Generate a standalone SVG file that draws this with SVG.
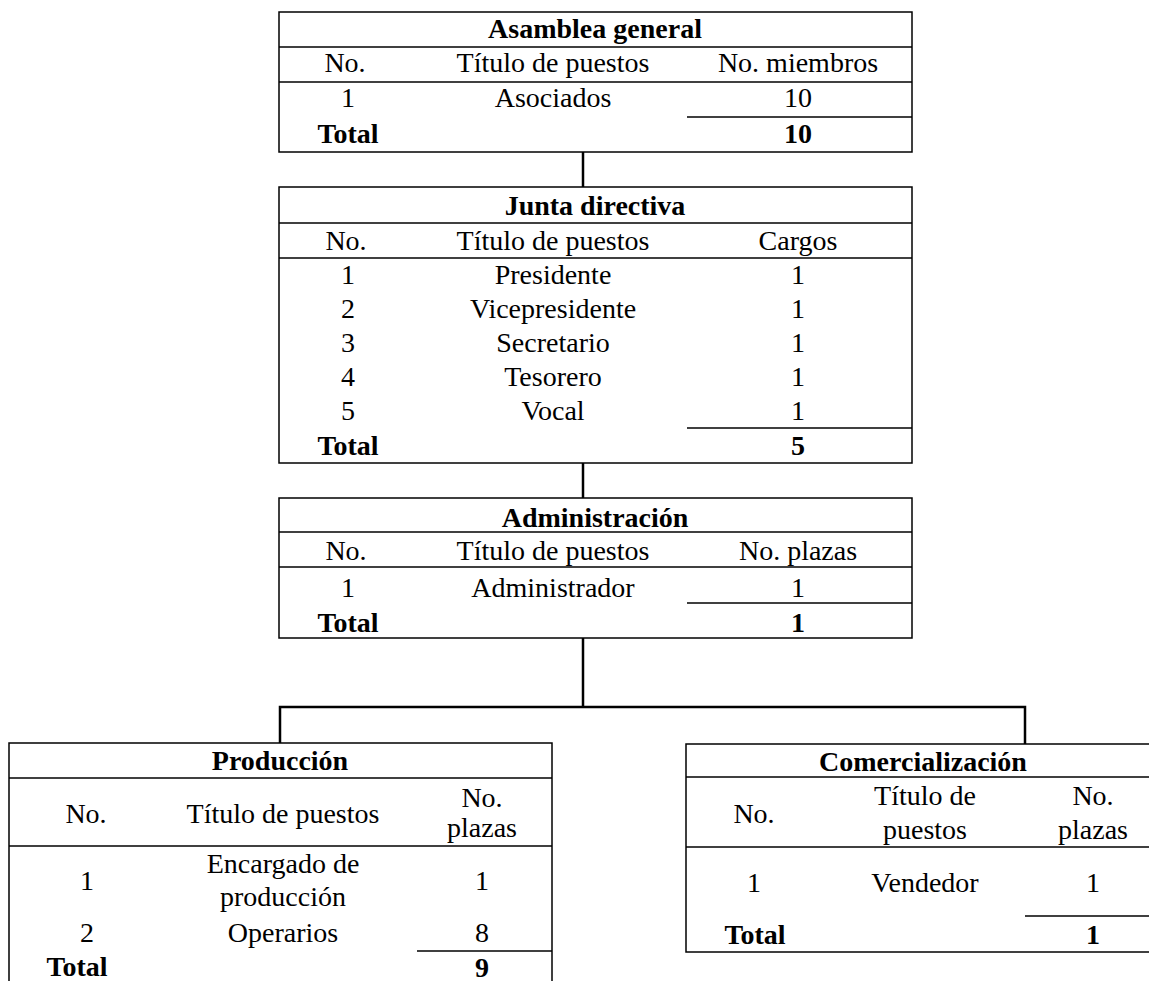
<svg xmlns="http://www.w3.org/2000/svg" width="1149" height="981" viewBox="0 0 1149 981">
<style>
.box{fill:#fff;stroke:#000;stroke-width:1.5}
.ln{stroke:#000;stroke-width:1.5;fill:none}
.con{stroke:#000;stroke-width:2.5;fill:none}
text{font-family:"Liberation Serif","Times New Roman",serif;font-size:28px;fill:#000;text-anchor:middle}
.b{font-weight:bold}
</style>
<rect x="0" y="0" width="1149" height="981" fill="#fff"/>
<g id="connectors">
<line class="con" x1="583" y1="152" x2="583" y2="187"/>
<line class="con" x1="583" y1="463" x2="583" y2="498"/>
<line class="con" x1="583" y1="638" x2="583" y2="707"/>
<polyline class="con" points="280,743 280,707 1025,707 1025,744"/>
</g>
<g id="asamblea">
<rect class="box" x="279" y="12" width="633" height="140"/>
<line class="ln" x1="279" y1="47" x2="912" y2="47"/>
<line class="ln" x1="279" y1="82" x2="912" y2="82"/>
<line class="ln" x1="687" y1="117" x2="912" y2="117"/>
<text class="b" x="595" y="38">Asamblea general</text>
<text x="345" y="72">No.</text>
<text x="553" y="72">Título de puestos</text>
<text x="798" y="72">No. miembros</text>
<text x="348" y="107">1</text>
<text x="553" y="107">Asociados</text>
<text x="798" y="107">10</text>
<text class="b" x="348" y="143">Total</text>
<text class="b" x="798" y="143">10</text>
</g>
<g id="junta">
<rect class="box" x="279" y="187" width="633" height="276"/>
<line class="ln" x1="279" y1="223" x2="912" y2="223"/>
<line class="ln" x1="279" y1="258" x2="912" y2="258"/>
<line class="ln" x1="687" y1="428" x2="912" y2="428"/>
<text class="b" x="595" y="215">Junta directiva</text>
<text x="346" y="250">No.</text>
<text x="553" y="250">Título de puestos</text>
<text x="798" y="250">Cargos</text>
<text x="348" y="284">1</text>
<text x="553" y="284">Presidente</text>
<text x="798" y="284">1</text>
<text x="348" y="318">2</text>
<text x="553" y="318">Vicepresidente</text>
<text x="798" y="318">1</text>
<text x="348" y="352">3</text>
<text x="553" y="352">Secretario</text>
<text x="798" y="352">1</text>
<text x="348" y="386">4</text>
<text x="553" y="386">Tesorero</text>
<text x="798" y="386">1</text>
<text x="348" y="420">5</text>
<text x="553" y="420">Vocal</text>
<text x="798" y="420">1</text>
<text class="b" x="348" y="455">Total</text>
<text class="b" x="798" y="455">5</text>
</g>
<g id="administracion">
<rect class="box" x="279" y="498" width="633" height="140"/>
<line class="ln" x1="279" y1="532" x2="912" y2="532"/>
<line class="ln" x1="279" y1="567" x2="912" y2="567"/>
<line class="ln" x1="687" y1="603" x2="912" y2="603"/>
<text class="b" x="595" y="527">Administración</text>
<text x="346" y="560">No.</text>
<text x="553" y="560">Título de puestos</text>
<text x="798" y="560">No. plazas</text>
<text x="348" y="597">1</text>
<text x="553" y="597">Administrador</text>
<text x="798" y="597">1</text>
<text class="b" x="348" y="632">Total</text>
<text class="b" x="798" y="632">1</text>
</g>
<g id="produccion">
<rect class="box" x="9" y="743" width="543" height="250"/>
<line class="ln" x1="9" y1="778" x2="552" y2="778"/>
<line class="ln" x1="9" y1="846" x2="552" y2="846"/>
<line class="ln" x1="417" y1="951" x2="552" y2="951"/>
<text class="b" x="280" y="770">Producción</text>
<text x="86" y="823">No.</text>
<text x="283" y="823">Título de puestos</text>
<text x="482" y="807">No.</text>
<text x="482" y="837">plazas</text>
<text x="87" y="890">1</text>
<text x="283" y="873">Encargado de</text>
<text x="283" y="906">producción</text>
<text x="482" y="890">1</text>
<text x="87" y="942">2</text>
<text x="283" y="942">Operarios</text>
<text x="482" y="942">8</text>
<text class="b" x="77" y="976">Total</text>
<text class="b" x="482" y="977">9</text>
</g>
<g id="comercializacion">
<rect class="box" x="686" y="744" width="480" height="208"/>
<line class="ln" x1="686" y1="777" x2="1166" y2="777"/>
<line class="ln" x1="686" y1="847" x2="1166" y2="847"/>
<line class="ln" x1="1025" y1="916" x2="1166" y2="916"/>
<text class="b" x="923" y="771">Comercialización</text>
<text x="754" y="823">No.</text>
<text x="925" y="805">Título de</text>
<text x="925" y="839">puestos</text>
<text x="1093" y="805">No.</text>
<text x="1093" y="839">plazas</text>
<text x="754" y="892">1</text>
<text x="925" y="892">Vendedor</text>
<text x="1093" y="892">1</text>
<text class="b" x="755" y="944">Total</text>
<text class="b" x="1093" y="944">1</text>
</g>
</svg>
